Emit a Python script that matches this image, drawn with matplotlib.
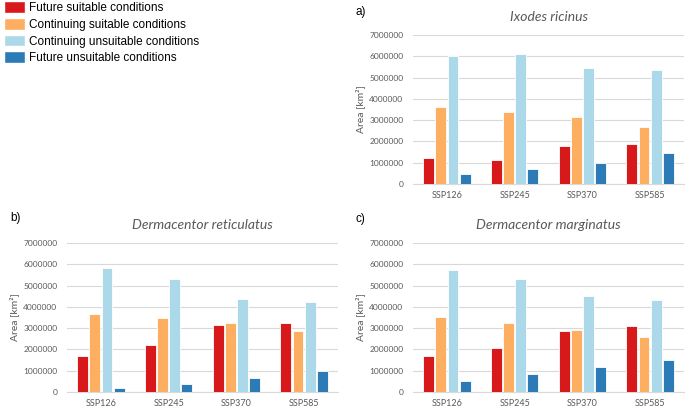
import numpy as np
import matplotlib.pyplot as plt
from matplotlib.patches import Patch

scenarios = ["SSP126", "SSP245", "SSP370", "SSP585"]
series_names = ["Future suitable conditions", "Continuing suitable conditions",
                "Continuing unsuitable conditions", "Future unsuitable conditions"]
colors = ["#d7191c", "#fdae61", "#abd9e9", "#2c7bb6"]

# values per species: rows = series, columns = scenarios
ixodes_fut_suit = [1200000, 1140000, 1800000, 1890000]
ixodes_cont_suit = [3640000, 3390000, 3140000, 2670000]
ixodes_cont_unsuit = [6020000, 6110000, 5450000, 5370000]
ixodes_fut_unsuit = [470000, 720000, 970000, 1450000]

retic_fut_suit = [1700000, 2220000, 3130000, 3250000]
retic_cont_suit = [3670000, 3480000, 3230000, 2880000]
retic_cont_unsuit = [5810000, 5300000, 4380000, 4250000]
retic_fut_unsuit = [200000, 390000, 640000, 1000000]

marg_fut_suit = [1690000, 2060000, 2880000, 3110000]
marg_cont_suit = [3530000, 3220000, 2890000, 2590000]
marg_cont_unsuit = [5720000, 5330000, 4530000, 4310000]
marg_fut_unsuit = [500000, 840000, 1190000, 1480000]

panels = [
    ("a)", "Ixodes ricinus", [ixodes_fut_suit, ixodes_cont_suit, ixodes_cont_unsuit, ixodes_fut_unsuit]),
    ("b)", "Dermacentor reticulatus", [retic_fut_suit, retic_cont_suit, retic_cont_unsuit, retic_fut_unsuit]),
    ("c)", "Dermacentor marginatus", [marg_fut_suit, marg_cont_suit, marg_cont_unsuit, marg_fut_unsuit]),
]

plt.rcParams['font.family'] = ['Lato', 'DejaVu Sans']

W, H = 685, 409
fig = plt.figure(figsize=(W / 100, H / 100), dpi=100)

# axes boxes in pixels: left, top, right, bottom
boxes = [(413, 35, 684, 184), (67, 243, 338, 392), (413, 243, 684, 392)]
label_pos = [(355, 12), (10, 218), (355, 219)]

grey = "#595959"
x = np.arange(len(scenarios))
step = 0.18
bw = 0.16

for (lab, title, data), (l, t, r, b), (lx, ly) in zip(panels, boxes, label_pos):
    ax = fig.add_axes([l / W, 1 - b / H, (r - l) / W, (b - t) / H])
    for i, vals in enumerate(data):
        ax.bar(x + (i - 1.5) * step, vals, width=bw, color=colors[i],
               edgecolor="white", linewidth=0.6, zorder=3)
    ax.set_xlim(-0.5, 3.5)
    ax.set_ylim(0, 7000000)
    ax.set_yticks(np.arange(0, 7000001, 1000000))
    ax.set_yticklabels([str(v) for v in range(0, 7000001, 1000000)])
    ax.set_xticks(x)
    ax.set_xticklabels(scenarios)
    ax.tick_params(axis="y", length=0, labelsize=6, colors=grey, pad=7)
    ax.tick_params(axis="x", length=0, labelsize=6.5, colors=grey, pad=5)
    ax.grid(axis="y", color="#d9d9d9", linewidth=0.8, zorder=0)
    for s in ["top", "right", "left"]:
        ax.spines[s].set_visible(False)
    ax.spines["bottom"].set_color("#d9d9d9")
    ax.set_ylabel("Area [km²]", fontsize=7.5, color=grey, labelpad=3)
    ax.set_title(title, fontsize=10, style="italic", color=grey, pad=10)
    fig.text(lx / W, 1 - ly / H, lab, fontsize=8.5, va="center", ha="left",
             family="Liberation Sans")

handles = [Patch(facecolor=c, edgecolor="white") for c in colors]
fig.legend(handles, series_names, loc="upper left", bbox_to_anchor=(-0.001, 1.008),
           frameon=False, handlelength=1.8, handleheight=1.15,
           handletextpad=0.3, labelspacing=0.32, borderaxespad=0.0,
           prop={"family": "Liberation Sans", "size": 8.5})

fig.savefig("out.png", dpi=100)
